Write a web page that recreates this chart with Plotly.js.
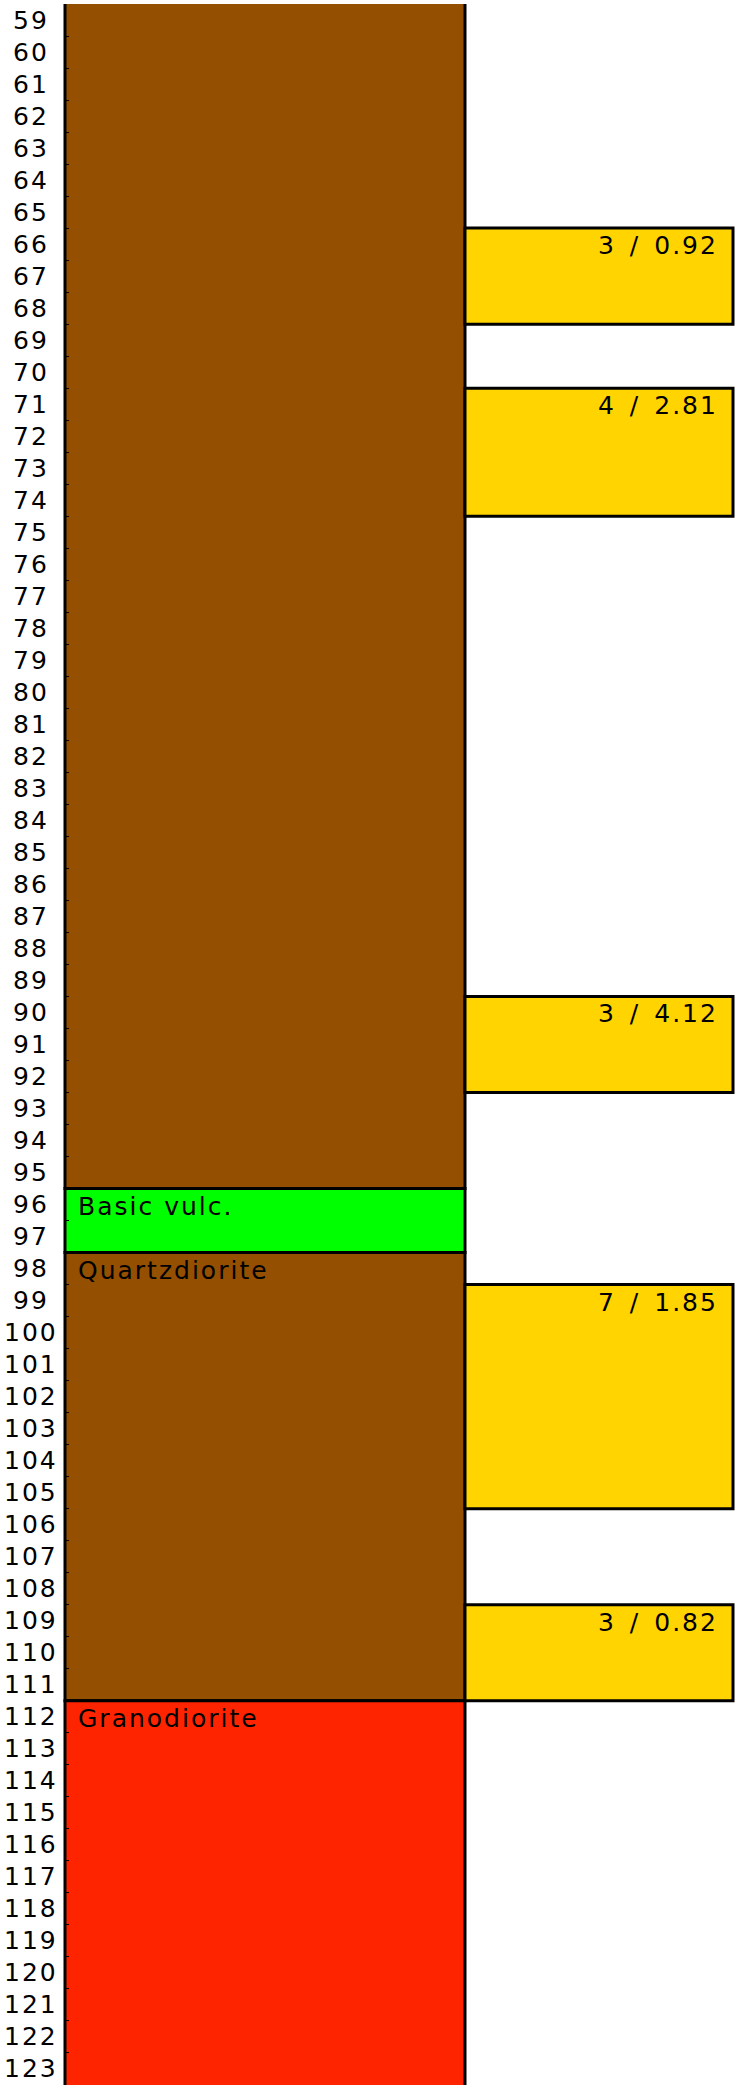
<!DOCTYPE html>
<html>
<head>
<meta charset="utf-8">
<script src="https://cdn.plot.ly/plotly-3.0.1.min.js"></script>
<style>
  html, body { margin: 0; padding: 0; background: #ffffff; }
  #chart { width: 736px; height: 2085px; }
  svg text { letter-spacing: 2px; }
</style>
</head>
<body>
<div id="chart"></div>
<script>
// ---------------- data ----------------
const depthTicks = [59, 60, 61, 62, 63, 64, 65, 66, 67, 68, 69, 70, 71, 72, 73, 74, 75, 76, 77, 78, 79,
  80, 81, 82, 83, 84, 85, 86, 87, 88, 89, 90, 91, 92, 93, 94, 95, 96, 97, 98, 99, 100, 101, 102,
  103, 104, 105, 106, 107, 108, 109, 110, 111, 112, 113, 114, 115, 116, 117, 118, 119, 120, 121,
  122, 123];

const lithoRock   = ["Quartzdiorite", "Basic vulc.", "Quartzdiorite", "Granodiorite"];
const lithoTop    = [58, 96, 98, 112];
const lithoBottom = [96, 98, 112, 125];

const sampleTop    = [66, 71, 90, 99, 109];
const sampleBottom = [69, 75, 93, 106, 112];
const sampleCount  = [3, 4, 3, 7, 3];
const sampleValue  = ["0.92", "2.81", "4.12", "1.85", "0.82"];

// ---------------- styles / layout ----------------
const rockColor = {
  "Quartzdiorite": "#944F00",
  "Basic vulc.": "#00FF00",
  "Granodiorite": "#FF2400"
};
const sampleColor = "#FFD400";
const FONT = "DejaVu Sans, Verdana, sans-serif";
const W = 736, H = 2085;
const ML = 62, MR = 0, MT = 4, MB = 0;
const PW = W - ML - MR;           // x axis in pixel-like units
const LITHO = {x0: 3, x1: 403};
const SAMPLE = {x0: 403, x1: 671};
const DEPTH_MIN = 59, DEPTH_MAX = 124;
const BORDER = 3;

const lithoTrace = {
  type: "bar",
  x: lithoTop.map(() => (LITHO.x0 + LITHO.x1) / 2),
  width: lithoTop.map(() => LITHO.x1 - LITHO.x0),
  base: lithoTop,
  y: lithoTop.map((t, i) => lithoBottom[i] - t),
  marker: {
    color: lithoRock.map(r => rockColor[r]),
    line: {color: "#000000", width: BORDER}
  },
  hoverinfo: "skip",
  showlegend: false
};

const sampleTrace = {
  type: "bar",
  x: sampleTop.map(() => (SAMPLE.x0 + SAMPLE.x1) / 2),
  width: sampleTop.map(() => SAMPLE.x1 - SAMPLE.x0),
  base: sampleTop,
  y: sampleTop.map((t, i) => sampleBottom[i] - t),
  marker: {color: sampleColor, line: {color: "#000000", width: BORDER}},
  hoverinfo: "skip",
  showlegend: false
};

const annotations = [];
// depth labels, centred in each metre row
depthTicks.forEach(d => {
  annotations.push({
    xref: "paper", yref: "y",
    x: (31 - ML) / PW, y: d + 0.5,
    xanchor: "center", yanchor: "middle",
    text: String(d), showarrow: false,
    font: {family: FONT, size: 25, color: "#000000"}
  });
});
// lithology names
lithoRock.forEach((r, i) => {
  if (lithoTop[i] < DEPTH_MIN) return;
  annotations.push({
    xref: "x", yref: "y",
    x: LITHO.x0, y: lithoTop[i],
    xanchor: "left", yanchor: "top",
    xshift: 11, yshift: -1,
    text: r, showarrow: false,
    font: {family: FONT, size: 25, color: "#000000"}
  });
});
// sample labels
sampleTop.forEach((t, i) => {
  annotations.push({
    xref: "x", yref: "y",
    x: SAMPLE.x1, y: t,
    xanchor: "right", yanchor: "top",
    xshift: -13, yshift: -1,
    text: '<span style="word-spacing:4px">' + sampleCount[i] + " / " + sampleValue[i] + "</span>",
    showarrow: false,
    font: {family: FONT, size: 25, color: "#000000"}
  });
});

const layout = {
  width: W, height: H,
  margin: {l: ML, r: MR, t: MT, b: MB, pad: 0},
  paper_bgcolor: "#ffffff",
  plot_bgcolor: "#ffffff",
  barmode: "overlay",
  bargap: 0,
  showlegend: false,
  xaxis: {
    range: [0, PW], visible: false, fixedrange: true
  },
  yaxis: {
    range: [DEPTH_MAX, DEPTH_MIN],
    tickvals: depthTicks,
    showticklabels: false,
    ticks: "inside", ticklen: 3, tickwidth: 1, tickcolor: "#000000",
    showgrid: false, zeroline: false, showline: false,
    anchor: "free", position: LITHO.x0 / PW,
    fixedrange: true
  },
  yaxis2: {
    overlaying: "y", matches: "y",
    range: [DEPTH_MAX, DEPTH_MIN],
    tickvals: depthTicks,
    showticklabels: false,
    ticks: "outside", ticklen: 3, tickwidth: 1, tickcolor: "#000000",
    showgrid: false, zeroline: false, showline: false,
    anchor: "free", position: LITHO.x1 / PW, side: "left",
    fixedrange: true
  },
  annotations: annotations
};

Plotly.newPlot("chart", [lithoTrace, sampleTrace], layout, {displayModeBar: false, staticPlot: true});
</script>
</body>
</html>
